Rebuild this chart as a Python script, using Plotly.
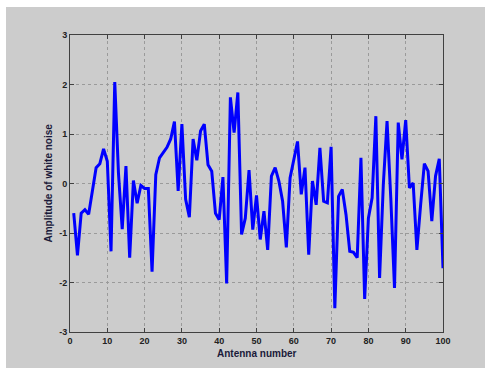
import plotly.graph_objects as go

# Antenna index and white-noise amplitude per antenna
antenna = list(range(1, 101))
amplitude = [
    -0.60, -1.45, -0.60, -0.53, -0.62, -0.15, 0.32, 0.40, 0.70, 0.45,
    -1.37, 2.05, 0.20, -0.92, 0.35, -1.50, 0.06, -0.40, -0.04, -0.10,
    -0.10, -1.78, 0.18, 0.52, 0.62, 0.73, 0.90, 1.25, -0.15, 1.20,
    -0.32, -0.68, 0.90, 0.47, 1.06, 1.20, 0.38, 0.25, -0.60, -0.73,
    0.13, -2.02, 1.74, 1.03, 1.84, -1.03, -0.70, 0.27, -0.93, -0.24,
    -1.13, -0.56, -1.34, 0.15, 0.32, 0.05, -0.36, -1.29, 0.11, 0.45,
    0.85, -0.22, 0.32, -1.44, 0.05, -0.43, 0.72, -0.36, -0.39, 0.74,
    -2.52, -0.26, -0.12, -0.63, -1.37, -1.39, -1.50, 0.52, -2.33, -0.70,
    -0.29, 1.36, -1.91, -0.02, 1.26, -0.29, -2.11, 1.23, 0.49, 1.28,
    -0.09, 0.01, -1.34, -0.43, 0.40, 0.25, -0.76, 0.15, 0.50, -1.71,
]

x_ticks = list(range(0, 101, 10))
y_ticks = [-3, -2, -1, 0, 1, 2, 3]

W, H = 485, 368
FONT = "Liberation Sans"
PLOT_W = W - 70 - 42
PLOT_H = H - 35 - 36

fig = go.Figure()
fig.add_trace(go.Scatter(
    x=antenna, y=amplitude, mode="lines",
    line=dict(color="#0000ff", width=3),
    showlegend=False, hoverinfo="skip",
))

axis_common = dict(
    showgrid=True, gridcolor="#9a9a9a", griddash="dot", gridwidth=1,
    showline=True, linecolor="#404040", linewidth=1, mirror="ticks",
    ticks="inside", ticklen=4, tickcolor="#404040",
    zeroline=False,
    tickfont=dict(family=FONT, size=9, color="#222222"),
)

fig.update_xaxes(range=[0, 100], tickvals=x_ticks,
                 ticktext=[f"<b>{v}</b>" for v in x_ticks], **axis_common)
fig.update_yaxes(range=[-3, 3], tickvals=y_ticks,
                 ticktext=[f"<b>{v}</b>" for v in y_ticks], **axis_common)

fig.update_layout(
    width=W, height=H,
    margin=dict(l=70, r=42, t=35, b=36, autoexpand=False),
    paper_bgcolor="#ffffff",
    plot_bgcolor="#ffffff",
    shapes=[
        # grey figure panel behind the axes
        dict(type="rect", xref="paper", yref="paper", layer="below",
             x0=(6 - 70) / PLOT_W, x1=(W - 70) / PLOT_W,
             y0=-36 / PLOT_H, y1=(H - 7 - 36) / PLOT_H,
             fillcolor="#cccccc", line=dict(width=0)),
    ],
    annotations=[
        dict(text="<b>Antenna number</b>", xref="paper", yref="paper",
             x=0.5, y=-21 / PLOT_H, showarrow=False,
             font=dict(family=FONT, size=10, color="#1a1a3a"),
             xanchor="center", yanchor="middle"),
        dict(text="<b>Amplitude of white noise</b>", xref="paper", yref="paper",
             x=-22 / PLOT_W, y=0.5, showarrow=False, textangle=-90,
             font=dict(family=FONT, size=10, color="#1a1a3a"),
             xanchor="center", yanchor="middle"),
    ],
)

fig.write_html("out.html")
